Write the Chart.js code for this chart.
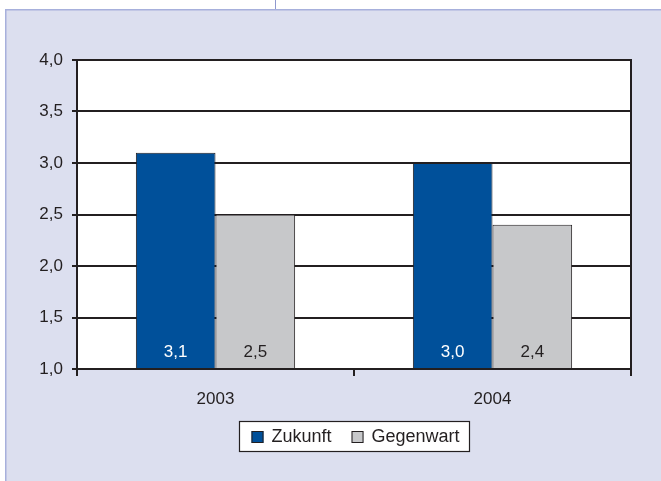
<!DOCTYPE html>
<html>
<head>
<meta charset="utf-8">
<script src="https://cdn.jsdelivr.net/npm/chart.js@4/dist/chart.umd.min.js"></script>
<style>
html,body{margin:0;padding:0;background:#fff;}
#wrap{width:661px;height:481px;position:relative;}
</style>
</head>
<body>
<div id="wrap"><canvas id="c" width="661" height="481"></canvas></div>
<script>
const categories = ['2003', '2004'];
const zukunft = [3.1, 3.0];
const gegenwart = [2.5, 2.4];
const seriesNames = ['Zukunft', 'Gegenwart'];
const yTicks = [1.0, 1.5, 2.0, 2.5, 3.0, 3.5, 4.0];

const DARK = '#231f20';
const FONT = '"Liberation Sans", Arial, Helvetica, sans-serif';
const fmt = v => Number(v).toFixed(1).replace('.', ',');

const backgroundPlugin = {
  id: 'bg',
  beforeDraw(chart) {
    const ctx = chart.ctx;
    ctx.save();
    ctx.fillStyle = '#ffffff';
    ctx.fillRect(0, 0, chart.width, chart.height);
    ctx.fillStyle = '#dcdfef';
    ctx.fillRect(5, 9, chart.width - 5, chart.height - 9);
    ctx.strokeStyle = '#a7b0dc';
    ctx.lineWidth = 1.5;
    ctx.beginPath();
    ctx.moveTo(5.75, chart.height);
    ctx.lineTo(5.75, 9.75);
    ctx.lineTo(chart.width, 9.75);
    ctx.stroke();
    ctx.strokeStyle = '#8f99cf';
    ctx.lineWidth = 1;
    ctx.beginPath();
    ctx.moveTo(275.5, 0);
    ctx.lineTo(275.5, 9);
    ctx.stroke();
    const a = chart.chartArea;
    ctx.fillStyle = '#ffffff';
    ctx.fillRect(a.left, a.top, a.right - a.left, a.bottom - a.top);
    ctx.restore();
  },
  afterDatasetsDraw(chart) {
    const ctx = chart.ctx;
    const a = chart.chartArea;
    ctx.save();
    // right border of plot
    ctx.strokeStyle = DARK;
    ctx.lineWidth = 2;
    ctx.beginPath();
    ctx.moveTo(a.right, a.top - 1);
    ctx.lineTo(a.right, a.bottom + 7);
    ctx.stroke();
    // value labels
    ctx.font = '17px ' + FONT;
    ctx.textAlign = 'center';
    ctx.textBaseline = 'middle';
    chart.data.datasets.forEach((ds, i) => {
      const meta = chart.getDatasetMeta(i);
      ctx.fillStyle = i === 0 ? '#ffffff' : DARK;
      meta.data.forEach((el, j) => {
        ctx.fillText(fmt(ds.data[j]), el.x, a.bottom - 17);
      });
    });
    // legend
    ctx.font = '18px ' + FONT;
    const items = chart.data.datasets.map(ds => ({label: ds.label, color: ds.backgroundColor}));
    const box = 12, gapBoxText = 8, gapItems = 20, padL = 12, padR = 10;
    let total = 0;
    const widths = items.map(it => ctx.measureText(it.label).width);
    widths.forEach((w, k) => { total += box + gapBoxText + w + (k ? gapItems : 0); });
    const lw = Math.round(total + padL + padR);
    const cx = (a.left + a.right) / 2;
    const lx = Math.round(cx - lw / 2) + 0.5;
    const ly = 421.5, lh = 30;
    ctx.fillStyle = '#ffffff';
    ctx.fillRect(lx, ly, lw, lh);
    ctx.strokeStyle = DARK;
    ctx.lineWidth = 1.2;
    ctx.strokeRect(lx, ly, lw, lh);
    let x = lx + padL;
    const cy = ly + lh / 2 + 0.5;
    ctx.textAlign = 'left';
    ctx.lineWidth = 1;
    items.forEach((it, k) => {
      ctx.fillStyle = it.color;
      ctx.fillRect(x, cy - box / 2, box, box);
      ctx.strokeStyle = DARK;
      ctx.strokeRect(x + 0.5, cy - box / 2 + 0.5, box - 1, box - 1);
      x += box + gapBoxText;
      ctx.fillStyle = DARK;
      ctx.fillText(it.label, x, cy);
      x += widths[k] + gapItems;
    });
    ctx.restore();
  }
};

new Chart(document.getElementById('c'), {
  type: 'bar',
  data: {
    labels: categories,
    datasets: [
      {label: seriesNames[0], data: zukunft, backgroundColor: '#00509a', borderColor: DARK, borderWidth: 1, base: 1},
      {label: seriesNames[1], data: gegenwart, backgroundColor: '#c7c8ca', borderColor: DARK, borderWidth: 1, base: 1}
    ]
  },
  options: {
    responsive: false,
    animation: false,
    events: [],
    layout: {padding: {left: 0, top: 60, right: 30, bottom: 0}},
    datasets: {bar: {categoryPercentage: 0.575, barPercentage: 1}},
    plugins: {legend: {display: false}, tooltip: {enabled: false}},
    scales: {
      x: {
        afterFit(s) { s.height = 112; },
        grid: {display: true, drawOnChartArea: false, drawTicks: true, tickLength: 7, offset: true, color: DARK, lineWidth: 2},
        border: {display: false},
        ticks: {color: DARK, font: {size: 17, family: FONT}, padding: 13}
      },
      y: {
        min: 1, max: 4,
        afterFit(s) { s.width = 77; },
        afterBuildTicks(s) { s.ticks = yTicks.map(v => ({value: v})); },
        grid: {color: DARK, lineWidth: 2, tickLength: 5, drawTicks: true},
        border: {display: true, color: DARK, width: 2},
        ticks: {color: DARK, font: {size: 17, family: FONT}, padding: 9, callback: v => fmt(v)}
      }
    }
  },
  plugins: [backgroundPlugin]
});
</script>
</body>
</html>
